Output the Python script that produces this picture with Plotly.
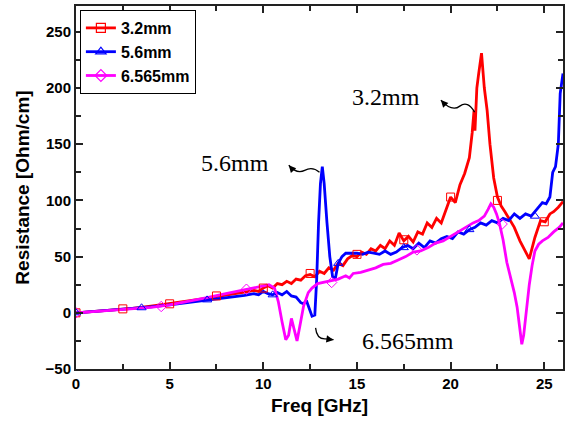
import plotly.graph_objects as go

# ---------------- data ----------------
red_f = [0, 1, 2, 3, 4, 5, 6, 7, 8, 9, 9.5, 9.75, 10, 10.25, 10.5, 10.75, 11, 11.25, 11.5, 11.75,
         12, 12.25, 12.5, 12.75, 13, 13.25, 13.5, 13.75, 14, 14.25, 14.5, 14.75, 15, 15.25, 15.5,
         15.75, 16, 16.25, 16.5, 16.75, 17, 17.25, 17.5, 17.75, 18, 18.25, 18.5, 18.75, 19, 19.25,
         19.5, 19.75, 20, 20.25, 20.5, 20.75, 21, 21.15, 21.25, 21.3, 21.4, 21.5, 21.65, 21.8,
         21.95, 22.1, 22.3, 22.5, 22.7, 22.9, 23.1, 23.4, 23.7, 23.9, 24.2, 24.5, 24.8, 25.05,
         25.3, 25.5, 25.75, 26]
red_r = [0, 1.3, 2.7, 4, 6, 8, 10.5, 13, 15.5, 18.5, 20, 19, 22, 24, 22, 26, 25, 28, 26, 30,
         29, 33, 34, 32, 37, 35, 40, 38, 44, 42, 48, 51, 50, 54, 52,
         57, 55, 60, 57, 64, 60, 71, 64, 68, 63, 72, 70, 80, 76, 84,
         80, 92, 103, 98, 114, 124, 138, 160, 180, 162, 200, 213, 231, 200,
         180, 150, 120, 103, 95, 90, 84, 76, 64, 58, 48, 67, 82, 81,
         88, 90, 94, 99]
red_mf = [0, 2.5, 5, 7.5, 10, 12.5, 15, 17.5, 20, 22.5, 25]
red_mr = [0, 3.5, 8, 15, 22, 35, 52, 65, 103, 100, 81]

blue_f = [0, 1, 2, 3, 4, 5, 6, 7, 8, 8.5, 9, 9.5, 9.75, 10, 10.25, 10.5, 10.75, 11, 11.25, 11.5,
          11.75, 12, 12.15, 12.3, 12.45, 12.6, 12.75, 12.85, 12.95, 13.05, 13.15, 13.25, 13.4,
          13.55, 13.7, 13.85, 14, 14.2, 14.4, 14.7, 15, 15.3, 15.6, 15.9, 16.2, 16.5, 16.8, 17.1,
          17.4, 17.7, 18, 18.3, 18.6, 18.9, 19.2, 19.5, 19.8, 20.1, 20.4, 20.7, 21, 21.3, 21.6,
          21.9, 22.2, 22.5, 22.8, 23.1, 23.4, 23.7, 24, 24.3, 24.6, 24.9, 25.1, 25.3, 25.45, 25.6,
          25.75, 25.85, 26]
blue_r = [0, 1.2, 2.5, 3.8, 5.2, 7, 9, 11.5, 13.5, 14, 15.5, 17, 16, 19, 17, 16, 18, 16, 19, 15,
          14, 9, 8, 11, 4, -3, -2, 30, 80, 115, 130, 115, 80,
          50, 32, 31, 44, 50, 53, 53, 53, 52, 54, 53, 52, 55, 52, 54,
          58, 60, 57, 62, 58, 64, 62, 66, 68, 66, 72, 70, 74, 76, 80,
          78, 82, 80, 84, 82, 88, 84, 88, 86, 92, 98, 97, 103, 125, 130,
          150, 195, 213]
blue_mf = [0, 3.5, 7, 10.5, 14, 17.5, 21, 24.5]
blue_mr = [0, 4.5, 11.5, 16, 44, 58, 74, 86]

mag_f = [0, 1, 2, 3, 4, 5, 6, 7, 8, 9, 9.5, 10, 10.3, 10.6, 10.8, 11, 11.2, 11.35, 11.5, 11.65,
         11.8, 11.95, 12.15, 12.4, 12.6, 12.9, 13.2, 13.6, 14, 14.4, 14.6, 14.8, 15.2, 15.6, 16,
         16.4, 16.8, 17.2, 17.6, 18, 18.4, 18.8, 19.2, 19.6, 20, 20.4, 20.8, 21.2, 21.5, 21.8,
         22, 22.15, 22.3, 22.45, 22.6, 22.8, 23, 23.2, 23.4, 23.55, 23.7, 23.8, 23.9, 24.05,
         24.2, 24.35, 24.5, 24.7, 24.9, 25.2, 25.5, 25.8, 26]
mag_r = [0, 1.2, 2.4, 3.6, 4.8, 7, 10, 13.5, 17, 20.5, 22, 24, 25, 22, 10, -8, -24, -20, -5, -15,
         -25, -12, 6, 18, 22, 26, 27, 28, 30, 33, 31, 35, 36, 38, 40,
         43, 44, 47, 50, 54, 55, 58, 62, 64, 68, 72, 76, 80, 82, 86,
         92, 97, 94, 88, 80, 65, 45, 32, 18, 5, -15, -28, -20, 5,
         25, 42, 55, 61, 64, 67, 72, 76, 80]
mag_mf = [0, 4.55, 9.1, 13.65, 18.2, 22.75]
mag_mr = [0, 5.6, 21, 27, 56, 79]

names = ["3.2mm", "5.6mm", "6.565mm"]
colors = ["#ff0000", "#0000ff", "#ff00ff"]
symbols = ["square-open", "triangle-up-open", "diamond-open"]
series = [(red_f, red_r, red_mf, red_mr), (blue_f, blue_r, blue_mf, blue_mr),
          (mag_f, mag_r, mag_mf, mag_mr)]

fig = go.Figure()
for (f, r, mf, mr), name, col, sym in zip(series, names, colors, symbols):
    fig.add_trace(go.Scatter(x=f, y=r, mode="lines", line=dict(color=col, width=2.8),
                             showlegend=False, hoverinfo="skip"))
for (f, r, mf, mr), name, col, sym in zip(series, names, colors, symbols):
    fig.add_trace(go.Scatter(x=mf, y=mr, mode="markers",
                             marker=dict(symbol=sym, size=8, color=col, line=dict(width=1, color=col)),
                             showlegend=False, hoverinfo="skip"))
for name, col, sym in zip(names, colors, symbols):
    fig.add_trace(go.Scatter(x=[None], y=[None], mode="lines+markers", name=name,
                             line=dict(color=col, width=2.8),
                             marker=dict(symbol=sym, size=9, color=col, line=dict(width=1.2, color=col))))

# annotations: label text + curly arrows (tail on curve -> head near text)
labels = [("3.2mm", 16.56, 192), ("5.6mm", 8.49, 133), ("6.565mm", 17.73, -25)]
serif = dict(family="Liberation Serif", size=24, color="black")
for t, x, y in labels:
    fig.add_annotation(x=x, y=y, text=t, showarrow=False, font=serif, xref="x", yref="y")

# each arrow: tail, control, mid, head (data coords) and arrowhead pixel offset
arrow_paths = [
    ((21.28, 178.6), (20.91, 189.3), (20.49, 183.9), (19.48, 189.3), (6, 6.5)),
    ((13.00, 125.0), (12.63, 130.4), (12.21, 126.8), (11.36, 131.3), (5, 5.6)),
    ((12.79, -13.4), (12.85, -23.2), (13.27, -23.2), (13.75, -24.1), (-7, -1)),
]
for tail, ctrl, mid, head, off in arrow_paths:
    path = (f"M {tail[0]},{tail[1]} Q {ctrl[0]},{ctrl[1]} {mid[0]},{mid[1]} "
            f"T {head[0]},{head[1]}")
    fig.add_shape(type="path", path=path, xref="x", yref="y",
                  line=dict(color="black", width=1.3))
    fig.add_annotation(x=head[0], y=head[1], ax=off[0], ay=off[1], xref="x", yref="y",
                       text="", showarrow=True, arrowhead=2, arrowsize=1.1, arrowwidth=1.3,
                       arrowcolor="black")

axfont = dict(family="Liberation Sans, Arial", size=15, color="black", weight="bold")
titlefont = dict(family="Liberation Sans, Arial", size=19, color="black", weight="bold")
common = dict(showgrid=False, zeroline=False, showline=True, linecolor="#222", linewidth=2,
              mirror="ticks", ticks="inside", ticklen=7, tickwidth=1.5, tickcolor="#222",
              tickfont=axfont)
fig.update_xaxes(range=[0, 26], tick0=0, dtick=5,
                 minor=dict(ticks="inside", dtick=2.5, ticklen=5, tickwidth=1.5, tickcolor="#222"),
                 title=dict(text="Freq [GHz]", font=titlefont, standoff=8), **common)
fig.update_yaxes(range=[-50, 273], tick0=0, dtick=50,
                 minor=dict(ticks="inside", dtick=25, ticklen=5, tickwidth=1.5, tickcolor="#222"),
                 title=dict(text="Resistance [Ohm/cm]", font=titlefont, standoff=11), **common)

fig.update_layout(
    width=569, height=431,
    margin=dict(l=76, r=4, t=6, b=62),
    paper_bgcolor="white", plot_bgcolor="white",
    legend=dict(x=0.008, y=0.989, xanchor="left", yanchor="top",
                bordercolor="black", borderwidth=1, bgcolor="white",
                font=dict(family="Liberation Sans, Arial", size=16, color="black", weight="bold"),
                tracegroupgap=0, itemwidth=30),
    showlegend=True,
)

fig.write_html("out.html")
